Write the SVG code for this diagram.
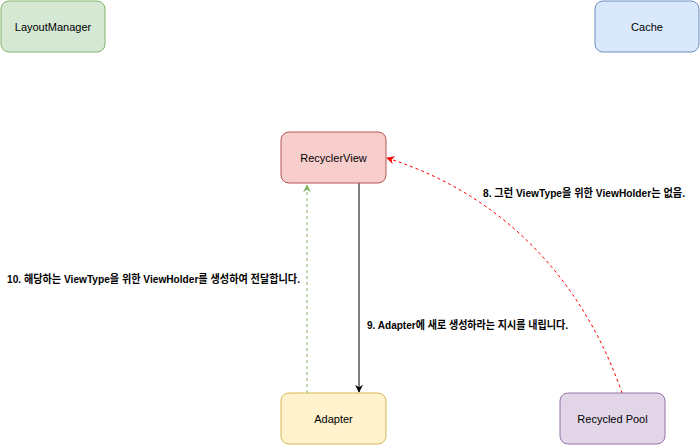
<svg xmlns="http://www.w3.org/2000/svg" width="700" height="446" viewBox="0 0 700 446">
<style>
.node text{font-family:"Liberation Sans","Noto Sans CJK KR",Arial,sans-serif;font-size:11px;fill:#000;text-anchor:middle;dominant-baseline:central}
.lbl{font-family:"Liberation Sans","Noto Sans CJK KR",Arial,sans-serif;font-size:11px;font-weight:bold;fill:#000;dominant-baseline:central}
.box{stroke-width:1}
</style>
<defs>
<marker id="ab" viewBox="0 0 10 10" refX="9" refY="5" markerWidth="8" markerHeight="8" orient="auto" markerUnits="userSpaceOnUse"><path d="M0,0 L10,5 L0,10 L3,5 Z" fill="#000"/></marker>
<marker id="ag" viewBox="0 0 10 10" refX="9" refY="5" markerWidth="8" markerHeight="8" orient="auto" markerUnits="userSpaceOnUse"><path d="M0,0 L10,5 L0,10 L3,5 Z" fill="#82b366"/></marker>
<marker id="ar" viewBox="0 0 10 10" refX="9" refY="5" markerWidth="8" markerHeight="8" orient="auto" markerUnits="userSpaceOnUse"><path d="M0,0 L10,5 L0,10 L3,5 Z" fill="#ff0000"/></marker>
</defs>
<rect width="700" height="446" fill="#fff"/>
<g id="connectors" fill="none">
<path d="M359 183 L359 392" stroke="#000" stroke-width="1" marker-end="url(#ab)"/>
<path d="M307 393 L307 185" stroke="#82b366" stroke-width="1" stroke-dasharray="3 3" marker-end="url(#ag)"/>
<path d="M622 393 C590 300 520 200 387 158" stroke="#ff0000" stroke-width="1" stroke-dasharray="3 3" marker-end="url(#ar)"/>
</g>
<g id="labels">
<text class="lbl" x="483" y="193" textLength="202" lengthAdjust="spacingAndGlyphs">8. 그런 ViewType을 위한 ViewHolder는 없음.</text>
<text class="lbl" x="7" y="279" textLength="293" lengthAdjust="spacingAndGlyphs">10. 해당하는 ViewType을 위한 ViewHolder를 생성하여 전달합니다.</text>
<text class="lbl" x="367" y="325" textLength="201" lengthAdjust="spacingAndGlyphs">9. Adapter에 새로 생성하라는 지시를 내립니다.</text>
</g>
<g id="layoutmanager" class="node"><rect class="box" x="1" y="1" width="104" height="51" rx="8" fill="#d5e8d4" stroke="#82b366"/><text x="53" y="26.5">LayoutManager</text></g>
<g id="cache" class="node"><rect class="box" x="595" y="1" width="104" height="51" rx="8" fill="#dae8fc" stroke="#6c8ebf"/><text x="647" y="26.5">Cache</text></g>
<g id="recyclerview" class="node"><rect class="box" x="281" y="132" width="105" height="51" rx="8" fill="#f8cecc" stroke="#b85450"/><text x="333.5" y="157.5">RecyclerView</text></g>
<g id="adapter" class="node"><rect class="box" x="281" y="393" width="105" height="51" rx="8" fill="#fff2cc" stroke="#d6b656"/><text x="333.5" y="418.5">Adapter</text></g>
<g id="recycledpool" class="node"><rect class="box" x="560" y="393" width="105" height="51" rx="8" fill="#e1d5e7" stroke="#9673a6"/><text x="612.5" y="418.5">Recycled Pool</text></g>
</svg>
